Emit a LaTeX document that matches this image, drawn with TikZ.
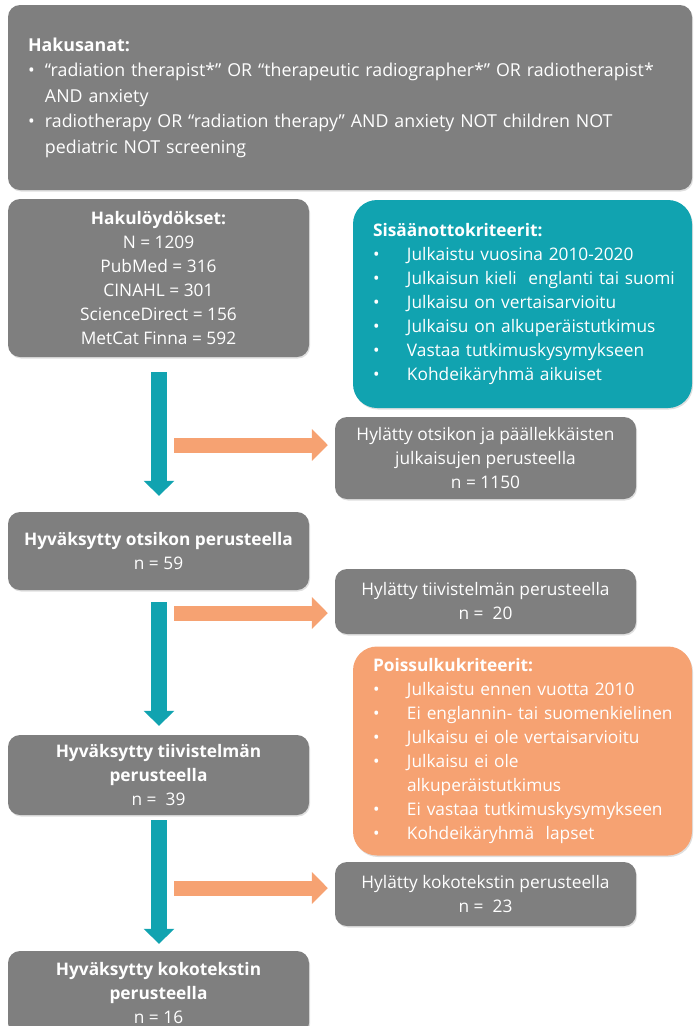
\documentclass[tikz,border=0pt]{standalone}
\usepackage{fontspec}
\setmainfont{Open Sans}
\usetikzlibrary{arrows.meta,shadows}
\definecolor{grayc}{RGB}{127,127,127}
\definecolor{tealc}{RGB}{17,163,176}
\definecolor{orangec}{RGB}{246,162,114}
\newcommand{\bul}[2]{\mbox{\makebox[#1][l]{•}#2}}
\newcommand{\fs}{\fontsize{17.3}{24}\selectfont}
\begin{document}
\begin{tikzpicture}[x=1pt,y=-1pt,
  shad/.style={drop shadow={opacity=0.25,shadow xshift=1pt,shadow yshift=-1.5pt}},
  gbox/.style={fill=grayc, rounded corners=12pt, text=white, inner sep=0pt, align=center, font=\fs, shad},
  critbox/.style={rounded corners=24pt, text=white, inner sep=0pt, align=left, font=\fs, text width=299pt, minimum width=339pt, minimum height=#1, shad},
  downarr/.style={draw=tealc, line width=16pt, -{Triangle[width=30pt,length=15pt]}},
  sidearr/.style={draw=orangec, line width=15pt, -{Triangle[width=31pt,length=16pt]}}
]
\useasboundingbox (0,0) rectangle (694,1026);

\node[gbox, minimum width=684pt, minimum height=185pt, align=left, text width=644pt,
  font=\fontsize{17.8}{25.5}\selectfont] (top) at (350,97.5)
  {\textbf{Hakusanat:}\\
   \bul{17pt}{“radiation therapist*” OR “therapeutic radiographer*” OR radiotherapist*}\\
   \hspace*{17pt}AND anxiety\\
   \bul{17pt}{radiotherapy OR “radiation therapy” AND anxiety NOT children NOT}\\
   \hspace*{17pt}pediatric NOT screening};

\node[gbox, minimum width=301pt, minimum height=158pt] (hak) at (158.5,278)
  {\textbf{Hakulöydökset:}\\ N = 1209\\ PubMed = 316\\ CINAHL = 301\\ ScienceDirect = 156\\ MetCat Finna = 592};

\node[critbox=208pt, fill=tealc] (incl) at (522.5,304)
  {\textbf{Sisäänottokriteerit:}\\
   \bul{34pt}{Julkaistu vuosina 2010-2020}\\
   \bul{34pt}{Julkaisun kieli\ \ englanti tai suomi}\\
   \bul{34pt}{Julkaisu on vertaisarvioitu}\\
   \bul{34pt}{Julkaisu on alkuperäistutkimus}\\
   \bul{34pt}{Vastaa tutkimuskysymykseen}\\
   \bul{34pt}{Kohdeikäryhmä aikuiset}};

\node[gbox, minimum width=301pt, minimum height=82pt] (hyl1) at (485.5,458)
  {Hylätty otsikon ja päällekkäisten\\ julkaisujen perusteella\\ n = 1150};

\node[gbox, minimum width=301pt, minimum height=78pt] (ots) at (158.5,551)
  {\textbf{Hyväksytty otsikon perusteella}\\ n = 59};

\node[gbox, minimum width=301pt, minimum height=65pt] (hyl2) at (485.5,601.5)
  {Hylätty tiivistelmän perusteella\\ n =\ \ 20};

\node[critbox=209pt, fill=orangec] (excl) at (522.5,751)
  {\textbf{Poissulkukriteerit:}\\
   \bul{34pt}{Julkaistu ennen vuotta 2010}\\
   \bul{34pt}{Ei englannin- tai suomenkielinen}\\
   \bul{34pt}{Julkaisu ei ole vertaisarvioitu}\\
   \bul{34pt}{Julkaisu ei ole}\\
   \hspace*{34pt}alkuperäistutkimus\\
   \bul{34pt}{Ei vastaa tutkimuskysymykseen}\\
   \bul{34pt}{Kohdeikäryhmä\ \ lapset}};

\node[gbox, minimum width=301pt, minimum height=80pt] (tii) at (158.5,775)
  {\textbf{Hyväksytty tiivistelmän}\\ \textbf{perusteella}\\ n =\ \ 39};

\node[gbox, minimum width=301pt, minimum height=64pt] (hyl3) at (485.5,894)
  {Hylätty kokotekstin perusteella\\ n =\ \ 23};

\node[gbox, minimum width=301pt, minimum height=84pt] (koko) at (158.5,993)
  {\textbf{Hyväksytty kokotekstin}\\ \textbf{perusteella}\\ n = 16};

% vertical arrows
\draw[downarr] ([xshift=0.5pt,yshift=-15pt]hak.south) -- ([xshift=0.5pt,yshift=16pt]ots.north);
\draw[downarr] ([xshift=0.5pt,yshift=-12pt]ots.south) -- ([xshift=0.5pt,yshift=9pt]tii.north);
\draw[downarr] ([xshift=0.5pt,yshift=-5pt]tii.south) -- ([xshift=0.5pt,yshift=7pt]koko.north);

% side arrows
\coordinate (s1) at (174,445);
\coordinate (s2) at (174,613);
\coordinate (s3) at (174,888);
\draw[sidearr] (s1) -- ([xshift=-7pt]hyl1.west |- s1);
\draw[sidearr] (s2) -- ([xshift=-7pt]hyl2.west |- s2);
\draw[sidearr] (s3) -- ([xshift=-7pt]hyl3.west |- s3);
\end{tikzpicture}
\end{document}
